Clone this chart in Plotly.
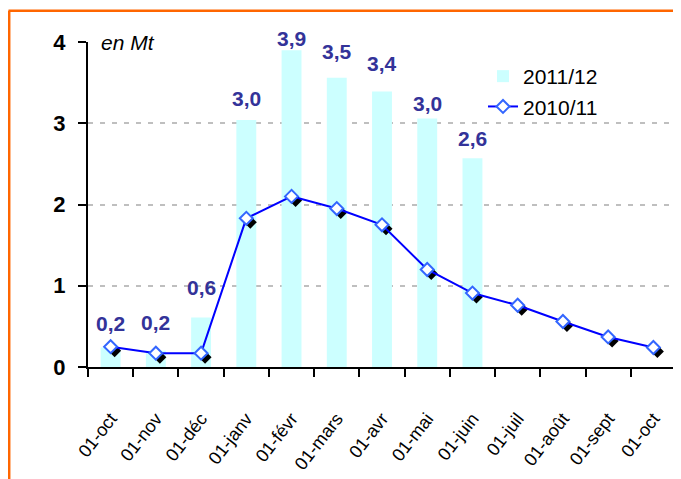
import plotly.graph_objects as go

# ---- data ----
months = ["01-oct", "01-nov", "01-déc", "01-janv", "01-févr", "01-mars", "01-avr",
          "01-mai", "01-juin", "01-juil", "01-août", "01-sept", "01-oct"]
values_2011_12 = [0.24, 0.2, 0.61, 3.04, 3.9, 3.56, 3.39, 3.06, 2.57]
labels_2011_12 = ["0,2", "0,2", "0,6", "3,0", "3,9", "3,5", "3,4", "3,0", "2,6"]
values_2010_11 = [0.25, 0.17, 0.17, 1.83, 2.1, 1.95, 1.75, 1.20, 0.91, 0.76, 0.56, 0.37, 0.24]
y_ticks = [0, 1, 2, 3, 4]

# label offsets above bars (px)
label_offsets_px = [24, 28, 30, 22, 12, 26, 28, 15, 20]

# page has an 8px body margin -> figure is sized to fill the rest of the window
OFF = 8
W, H = 681 - OFF, 479 - OFF
ML, MR, MT, MB = 80, 5, 34, 112
PW, PH = W - ML - MR, H - MT - MB
x_idx = list(range(len(months)))
x_range = [-0.5, len(months) - 0.5]
y_range = [0, 4]

shadow_px = 4
dx = shadow_px * (x_range[1] - x_range[0]) / PW
dy = shadow_px * (y_range[1] - y_range[0]) / PH

FONT = "Arial, Liberation Sans, sans-serif"


def px_x(p):  # page pixel -> paper x
    return (p - OFF - ML) / PW


def px_y(p):  # page pixel -> paper y
    return (H - MB - (p - OFF)) / PH


fig = go.Figure()
fig.add_trace(go.Bar(
    x=x_idx[:len(values_2011_12)], y=values_2011_12, name="2011/12",
    marker=dict(color="#CCFFFF", line=dict(width=0)), width=0.44,
    xaxis="x", yaxis="y"))
# shadow of markers
fig.add_trace(go.Scatter(
    x=x_idx, y=values_2010_11, mode="markers", showlegend=False, hoverinfo="skip",
    marker=dict(symbol="diamond", size=10, color="black"),
    xaxis="x2", yaxis="y2"))
fig.add_trace(go.Scatter(
    x=x_idx, y=values_2010_11, mode="lines+markers", name="2010/11",
    line=dict(color="#0000FF", width=2),
    marker=dict(symbol="diamond", size=10, color="white",
                line=dict(color="#3366FF", width=2)),
    xaxis="x3", yaxis="y3"))

for i, (v, t) in enumerate(zip(values_2011_12, labels_2011_12)):
    fig.add_annotation(x=x_idx[i], y=v, text=t, showarrow=False, xref="x", yref="y",
                       yshift=label_offsets_px[i], yanchor="middle",
                       font=dict(family=FONT, size=21, color="#333399", weight="bold"))

fig.add_annotation(x=11 / PW, y=4, xref="paper", yref="y", text="<i>en Mt</i>",
                   showarrow=False, xanchor="left", yanchor="middle",
                   font=dict(family=FONT, size=21, color="black"))

# orange frame
fig.add_shape(type="line", xref="paper", yref="paper",
              x0=px_x(8.5), x1=px_x(700), y0=px_y(10.7), y1=px_y(10.7),
              line=dict(color="#FF6600", width=2.5))
fig.add_shape(type="line", xref="paper", yref="paper",
              x0=px_x(9.2), x1=px_x(9.2), y0=px_y(10.7), y1=px_y(500),
              line=dict(color="#FF6600", width=2.5))

fig.update_layout(
    width=W, height=H,
    margin=dict(l=ML, r=MR, t=MT, b=MB, autoexpand=False),
    paper_bgcolor="white", plot_bgcolor="white",
    font=dict(family=FONT, size=21, color="black"),
    showlegend=True,
    legend=dict(x=px_x(483), y=px_y(56), xanchor="left", yanchor="top",
                bgcolor="rgba(0,0,0,0)", font=dict(family=FONT, size=21),
                tracegroupgap=0),
    xaxis=dict(range=x_range, tickmode="array", tickvals=x_idx, ticktext=months,
               tickangle=-52, ticks="", showgrid=False, zeroline=False, automargin=False,
               showline=True, linecolor="black", linewidth=2,
               tickfont=dict(family=FONT, size=18, color="black"),
               ticklabelstandoff=32,
               minor=dict(tickmode="array",
                          tickvals=[i - 0.5 for i in range(len(months) + 1)],
                          ticks="outside", ticklen=8, tickwidth=2, tickcolor="black",
                          showgrid=False)),
    yaxis=dict(range=y_range, tickmode="array", tickvals=y_ticks, automargin=False,
               ticks="outside", ticklen=8, tickwidth=2, tickcolor="black",
               showline=True, linecolor="black", linewidth=2, zeroline=False,
               showgrid=True, gridcolor="#BFBFBF", gridwidth=2, griddash="5px,7px",
               tickfont=dict(family=FONT, size=22, color="black", weight="bold"),
               ticklabelstandoff=8),
    xaxis2=dict(overlaying="x", anchor="y2", range=[x_range[0] - dx, x_range[1] - dx],
                visible=False),
    yaxis2=dict(overlaying="y", anchor="x2", range=[y_range[0] + dy, y_range[1] + dy],
                visible=False),
    xaxis3=dict(overlaying="x", anchor="y3", range=x_range, visible=False),
    yaxis3=dict(overlaying="y", anchor="x3", range=y_range, visible=False),
)

fig.write_html("out.html")
